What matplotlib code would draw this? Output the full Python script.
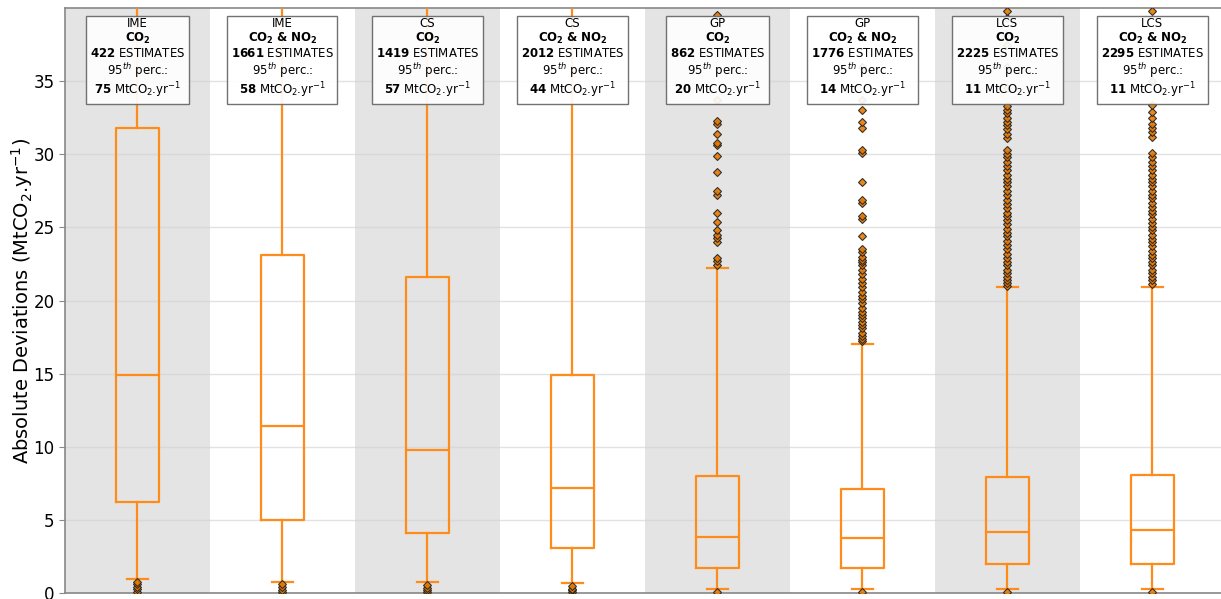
import matplotlib
matplotlib.use('Agg')
import matplotlib.pyplot as plt

# Methods / tracer combinations, one box each
metodos = ['IME', 'IME', 'CS', 'CS', 'GP', 'GP', 'LCS', 'LCS']
trazadores = [r'$\mathbf{CO_2}$', r'$\mathbf{CO_2\ &\ NO_2}$'] * 4
n_estimaciones = [422, 1661, 1419, 2012, 862, 1776, 2225, 2295]
perc95 = [75, 58, 57, 44, 20, 14, 11, 11]

# Box statistics (MtCO2/yr)
q1 = [6.2, 5.0, 4.1, 3.05, 1.7, 1.7, 1.95, 2.0]
mediana = [14.9, 11.4, 9.8, 7.2, 3.8, 3.75, 4.2, 4.3]
q3 = [31.8, 23.1, 21.6, 14.9, 8.0, 7.1, 7.95, 8.1]
bigote_inf = [0.96, 0.78, 0.72, 0.66, 0.28, 0.28, 0.28, 0.28]
bigote_sup = [70.0, 50.0, 48.0, 42.0, 22.2, 17.0, 20.9, 20.95]

atipicos = [
    [0.08, 0.25, 0.43, 0.6, 0.78],
    [0.08, 0.22, 0.38, 0.6],
    [0.08, 0.2, 0.32, 0.55],
    [0.08, 0.2, 0.3, 0.48],
    [0.08, 22.4, 22.7, 22.9, 24.0, 24.3, 24.5, 24.8, 25.4, 26.0, 27.2, 27.5,
     28.8, 29.9, 30.6, 30.8, 31.4, 32.1, 32.3, 33.7, 39.5, 45.0],
    [0.08, 17.2, 17.4, 17.6, 17.8, 18.1, 18.3, 18.5, 18.8, 19.0, 19.2, 19.5,
     19.8, 20.1, 20.3, 20.6, 20.9, 21.2, 21.5, 21.8, 22.1, 22.4, 22.6, 22.8,
     23.0, 23.3, 23.5, 24.4, 25.6, 25.8, 26.7, 26.9, 28.1, 30.1, 30.3, 31.8,
     32.2, 33.0, 33.7, 36.0, 41.0],
    [0.08, 21.0, 21.2, 21.4, 21.6, 21.9, 22.1, 22.4, 22.6, 22.9, 23.2, 23.5,
     23.8, 24.1, 24.4, 24.6, 24.9, 25.2, 25.5, 25.8, 26.0, 26.3, 26.6, 26.9,
     27.2, 27.5, 27.8, 28.1, 28.3, 28.6, 28.9, 29.2, 29.5, 29.8, 30.0, 30.3,
     31.1, 31.4, 31.7, 32.0, 32.2, 32.5, 32.8, 33.0, 33.3, 34.5, 36.0, 37.5,
     39.3, 39.8, 44.0],
    [0.08, 21.1, 21.4, 21.6, 21.9, 22.1, 22.4, 22.6, 22.9, 23.1, 23.4, 23.7,
     24.0, 24.2, 24.5, 24.8, 25.0, 25.3, 25.6, 25.9, 26.1, 26.4, 26.7, 27.0,
     27.2, 27.5, 27.8, 28.1, 28.3, 28.6, 28.9, 29.2, 29.5, 29.8, 30.1, 31.2,
     31.5, 31.8, 32.1, 32.5, 32.9, 33.4, 35.0, 37.0, 39.8, 45.0],
]

NARANJA = '#ff8c1a'

fig = plt.figure(figsize=(12.21, 5.99), dpi=100)
ax = fig.add_axes([0.0532, 0.010, 0.950, 0.9766])

posiciones = list(range(1, len(metodos) + 1))

# Alternating grey bands behind every other box
for p in posiciones[::2]:
    ax.axvspan(p - 0.5, p + 0.5, color='#e4e4e4', zorder=0, lw=0)

stats = []
for i in range(len(metodos)):
    stats.append({'med': mediana[i], 'q1': q1[i], 'q3': q3[i],
                  'whislo': bigote_inf[i], 'whishi': bigote_sup[i],
                  'fliers': atipicos[i]})

ax.bxp(stats, positions=posiciones, widths=0.3, showfliers=True,
       boxprops=dict(color=NARANJA, linewidth=1.6),
       medianprops=dict(color=NARANJA, linewidth=1.6),
       whiskerprops=dict(color=NARANJA, linewidth=1.6),
       capprops=dict(color=NARANJA, linewidth=1.6),
       flierprops=dict(marker='D', markersize=4.5, markerfacecolor='#e97a00',
                       markeredgecolor='#222222', markeredgewidth=0.8, alpha=0.9),
       zorder=3)

# Label box on top of each column
for i, p in enumerate(posiciones):
    txt = (f"{metodos[i]}\n{trazadores[i]}\n"
           f"$\\mathbf{{{n_estimaciones[i]}}}$ ESTIMATES\n"
           f"95$^{{th}}$ perc.:\n"
           f"$\\mathbf{{{perc95[i]}}}$ MtCO$_2$.yr$^{{-1}}$")
    ax.text(p, 36.55, txt, ha='center', va='center', fontsize=8.5,
            linespacing=1.08, zorder=5,
            bbox=dict(boxstyle='square,pad=0.3', facecolor='white',
                      edgecolor='#666666', alpha=0.92, linewidth=1.0))

ax.set_xlim(0.5, len(metodos) + 0.5)
ax.set_ylim(0, 40)
ax.set_yticks([0, 5, 10, 15, 20, 25, 30, 35])
ax.set_xticks([])
ax.tick_params(axis='y', labelsize=12, color='#888888', length=4)
ax.yaxis.grid(True, color='#d0d0d0', alpha=0.6, linewidth=1.0, zorder=1)
ax.set_axisbelow(True)
for s in ax.spines.values():
    s.set_color('#888888')
    s.set_linewidth(1.2)

ax.set_ylabel('Absolute Deviations (MtCO$_2$.yr$^{-1}$)', fontsize=14, labelpad=-1)

plt.savefig('out.png', dpi=100)
plt.close()
